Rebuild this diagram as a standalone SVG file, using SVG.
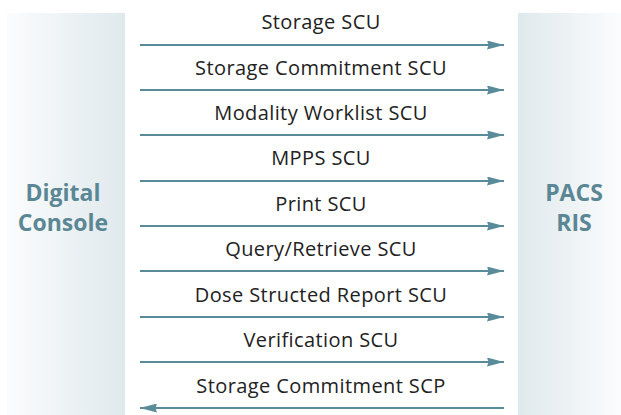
<svg xmlns="http://www.w3.org/2000/svg" width="621" height="415" viewBox="0 0 621 415">
<defs>
<linearGradient id="gl" x1="0" y1="0" x2="1" y2="0"><stop offset="0" stop-color="#fbfcfd"/><stop offset="1" stop-color="#dfe9ec"/></linearGradient>
<linearGradient id="gr" x1="0" y1="0" x2="1" y2="0"><stop offset="0" stop-color="#dfe9ec"/><stop offset="1" stop-color="#fbfcfd"/></linearGradient>
<marker id="ah" markerWidth="17" markerHeight="9" refX="17" refY="4.5" orient="auto" markerUnits="userSpaceOnUse"><path d="M0,0 L17,4.5 L0,9 L1.5,4.5 Z" fill="#5a8b99"/></marker>
<style>
.c{stroke:#5a8b99;stroke-width:1.8;fill:none;marker-end:url(#ah)}
.l{font-family:"Open Sans","Noto Sans",sans-serif;font-size:20px;letter-spacing:0.4px;fill:#222;text-anchor:middle}
.n{font-family:"Open Sans","Noto Sans",sans-serif;font-size:23px;font-weight:bold;fill:#5b8795;text-anchor:middle}
</style>
</defs>
<rect width="621" height="415" fill="#fff"/>
<g id="digital-console"><rect x="7" y="13" width="118" height="402" fill="url(#gl)"/><text class="n" x="63" y="201">Digital</text><text class="n" x="63" y="231">Console</text></g>
<g id="pacs-ris"><rect x="518" y="13" width="103" height="402" fill="url(#gr)"/><text class="n" x="574" y="201">PACS</text><text class="n" x="574" y="231">RIS</text></g>
<g id="connectors">
<line class="c" x1="140" y1="45" x2="504" y2="45"/>
<line class="c" x1="140" y1="90" x2="504" y2="90"/>
<line class="c" x1="140" y1="135" x2="504" y2="135"/>
<line class="c" x1="140" y1="181" x2="504" y2="181"/>
<line class="c" x1="140" y1="226" x2="504" y2="226"/>
<line class="c" x1="140" y1="271" x2="504" y2="271"/>
<line class="c" x1="140" y1="317" x2="504" y2="317"/>
<line class="c" x1="140" y1="362" x2="504" y2="362"/>
<line class="c" x1="504" y1="408" x2="140" y2="408"/>
</g>
<g id="labels">
<text class="l" x="321" y="29">Storage SCU</text>
<text class="l" x="321" y="75">Storage Commitment SCU</text>
<text class="l" x="321" y="120">Modality Worklist SCU</text>
<text class="l" x="321" y="165">MPPS SCU</text>
<text class="l" x="321" y="211">Print SCU</text>
<text class="l" x="321" y="256">Query/Retrieve SCU</text>
<text class="l" x="321" y="302">Dose Structed Report SCU</text>
<text class="l" x="321" y="347">Verification SCU</text>
<text class="l" x="321" y="393">Storage Commitment SCP</text>
</g>
</svg>
